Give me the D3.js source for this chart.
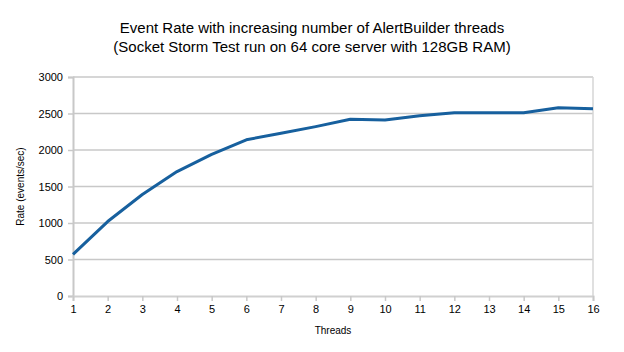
<!DOCTYPE html>
<head>
    <title>Event Rate</title>
    <script src="https://cdnjs.cloudflare.com/ajax/libs/d3/7.8.5/d3.min.js"></script>
    <style>
        body { margin: 0; background: #fff; }
        text { font-family: "Liberation Sans", Arial, sans-serif; fill: #000; }
    </style>
</head>
<body>
    <div id="chart"></div>
    <script type="text/javascript">
        const threads = [1, 2, 3, 4, 5, 6, 7, 8, 9, 10, 11, 12, 13, 14, 15, 16];
        const rates = [570, 1020, 1390, 1705, 1940, 2140, 2230, 2320, 2420, 2410, 2470, 2510, 2510, 2510, 2580, 2565];
        const yTicks = [0, 500, 1000, 1500, 2000, 2500, 3000];
        const titleLines = ["Event Rate with increasing number of AlertBuilder threads",
                            "(Socket Storm Test run on 64 core server with 128GB RAM)"];

        const width = 624;
        const height = 352;
        const marginLeft = 73;
        const marginRight = 31;
        const marginTop = 77;
        const marginBottom = 56;

        const svg = d3.select("#chart")
            .append("svg")
            .attr("width", width)
            .attr("height", height);

        const x = d3.scaleLinear()
            .domain([1, 16])
            .range([marginLeft, width - marginRight]);

        const y = d3.scaleLinear()
            .domain([0, 3000])
            .range([height - marginBottom, marginTop]);

        // grid lines
        svg.append("g")
            .selectAll("line")
            .data(yTicks.slice(1))
            .enter()
            .append("line")
            .attr("x1", marginLeft)
            .attr("x2", width - marginRight)
            .attr("y1", d => y(d))
            .attr("y2", d => y(d))
            .attr("stroke", "#c8c8c8")
            .attr("stroke-width", 1.5);

        // right border
        svg.append("line")
            .attr("x1", x(16)).attr("x2", x(16))
            .attr("y1", y(0)).attr("y2", y(3000))
            .attr("stroke", "#d6d6d6")
            .attr("stroke-width", 1.5);

        // Y axis
        const yAxis = d3.axisLeft(y)
            .tickValues(yTicks)
            .tickFormat(d3.format("d"))
            .tickSize(5)
            .tickPadding(5);
        const gy = svg.append("g")
            .attr("transform", "translate(" + marginLeft + ",0)")
            .call(yAxis);
        gy.select(".domain").attr("stroke", "#c8c8c8").attr("stroke-width", 2);
        gy.selectAll(".tick line").attr("stroke", "#c8c8c8").attr("stroke-width", 1.5);
        gy.selectAll(".tick text").style("font-size", "11px").attr("fill", "#000");

        // X axis
        const xAxis = d3.axisBottom(x)
            .tickValues(threads)
            .tickFormat(d3.format("d"))
            .tickSize(5)
            .tickPadding(4);
        const gx = svg.append("g")
            .attr("transform", "translate(0," + y(0) + ")")
            .call(xAxis);
        gx.select(".domain").attr("stroke", "#d0d0d0").attr("stroke-width", 2);
        gx.selectAll(".tick line").attr("stroke", "#c8c8c8").attr("stroke-width", 1.5);
        gx.selectAll(".tick text").style("font-size", "11px").attr("fill", "#000");

        // line
        const line = d3.line()
            .x((d, i) => x(threads[i]))
            .y(d => y(d));

        svg.append("path")
            .datum(rates)
            .attr("d", line)
            .attr("fill", "none")
            .attr("stroke", "#17609e")
            .attr("stroke-width", 3)
            .attr("stroke-linejoin", "round");

        // title
        svg.append("g")
            .selectAll("text")
            .data(titleLines)
            .enter()
            .append("text")
            .attr("x", 312)
            .attr("y", (d, i) => 33 + i * 18.5)
            .attr("text-anchor", "middle")
            .style("font-size", "15px")
            .text(d => d);

        // axis titles
        svg.append("text")
            .attr("x", (marginLeft + width - marginRight) / 2)
            .attr("y", 334)
            .attr("text-anchor", "middle")
            .style("font-size", "10px")
            .text("Threads");

        svg.append("text")
            .attr("transform", "translate(24," + ((marginTop + height - marginBottom) / 2) + ") rotate(-90)")
            .attr("text-anchor", "middle")
            .style("font-size", "10px")
            .text("Rate (events/sec)");
    </script>
</body>
